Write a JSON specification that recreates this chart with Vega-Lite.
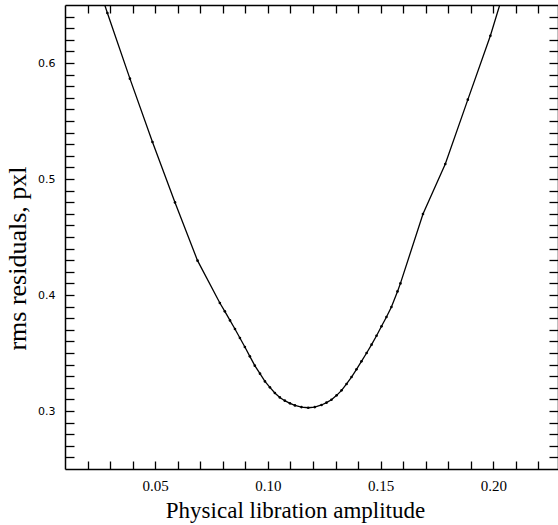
{
  "$schema": "https://vega.github.io/schema/vega-lite/v6.json",
  "width": 493,
  "height": 464,
  "autosize": {"type": "none"},
  "padding": {"left": 65, "top": 5, "right": 0, "bottom": 56},
  "background": "white",
  "config": {
    "view": {"stroke": null},
    "axis": {"grid": false, "domainColor": "black", "domainWidth": 1.5, "tickColor": "black", "tickWidth": 1.3, "labelColor": "black", "titleColor": "black"}
  },
  "data": {
    "values": [
      {"a": 0.0188, "r": 0.702},
      {"a": 0.0288, "r": 0.6431},
      {"a": 0.0388, "r": 0.5865},
      {"a": 0.0488, "r": 0.5319},
      {"a": 0.0588, "r": 0.4798},
      {"a": 0.0688, "r": 0.4296},
      {"a": 0.0787, "r": 0.3931},
      {"a": 0.0809, "r": 0.3859},
      {"a": 0.0832, "r": 0.3781},
      {"a": 0.0854, "r": 0.3707},
      {"a": 0.0876, "r": 0.3629},
      {"a": 0.0898, "r": 0.3552},
      {"a": 0.0920, "r": 0.3471},
      {"a": 0.0942, "r": 0.3391},
      {"a": 0.0965, "r": 0.3322},
      {"a": 0.0987, "r": 0.3255},
      {"a": 0.1009, "r": 0.3204},
      {"a": 0.1031, "r": 0.3155},
      {"a": 0.1053, "r": 0.3117},
      {"a": 0.1075, "r": 0.3089},
      {"a": 0.1098, "r": 0.3066},
      {"a": 0.1120, "r": 0.3048},
      {"a": 0.1149, "r": 0.3034},
      {"a": 0.1179, "r": 0.3028},
      {"a": 0.1208, "r": 0.3034},
      {"a": 0.1238, "r": 0.3052},
      {"a": 0.1260, "r": 0.3072},
      {"a": 0.1282, "r": 0.3097},
      {"a": 0.1305, "r": 0.3135},
      {"a": 0.1327, "r": 0.3178},
      {"a": 0.1349, "r": 0.3233},
      {"a": 0.1371, "r": 0.3293},
      {"a": 0.1393, "r": 0.3359},
      {"a": 0.1415, "r": 0.3428},
      {"a": 0.1438, "r": 0.3500},
      {"a": 0.1460, "r": 0.3572},
      {"a": 0.1482, "r": 0.3649},
      {"a": 0.1504, "r": 0.3730},
      {"a": 0.1526, "r": 0.3810},
      {"a": 0.1548, "r": 0.3897},
      {"a": 0.1575, "r": 0.4031},
      {"a": 0.1588, "r": 0.4100},
      {"a": 0.1688, "r": 0.4698},
      {"a": 0.1787, "r": 0.5129},
      {"a": 0.1887, "r": 0.5684},
      {"a": 0.1987, "r": 0.6235},
      {"a": 0.2088, "r": 0.688}
    ]
  },
  "layer": [
    {
      "mark": {"type": "line", "color": "black", "strokeWidth": 1.3, "clip": true,
               "point": {"filled": true, "size": 7, "color": "black"}},
      "encoding": {
        "x": {"field": "a", "type": "quantitative",
              "scale": {"domain": [0.01, 0.2287], "nice": false, "zero": false},
              "axis": {
                "orient": "bottom",
                "values": [0.02,0.03,0.04,0.05,0.06,0.07,0.08,0.09,0.10,0.11,0.12,0.13,0.14,0.15,0.16,0.17,0.18,0.19,0.20,0.21,0.22],
                "labelExpr": "round(datum.value*100) % 5 == 0 ? format(datum.value, '.2f') : ''",
                "tickSize": -8, "labelPadding": 17,
                "labelFont": "Liberation Serif", "labelFontSize": 15,
                "title": "Physical libration amplitude",
                "titleFont": "Liberation Serif", "titleFontSize": 23, "titleFontWeight": "normal",
                "titleX": 230, "titleY": 48, "titleBaseline": "alphabetic", "titleAnchor": "middle",
                "encode": {"ticks": {"update": {"y2": {"signal": "round(datum.value*100) % 5 == 0 ? -8 : -4"}}}}
              }},
        "y": {"field": "r", "type": "quantitative",
              "scale": {"domain": [0.25, 0.65], "nice": false, "zero": false},
              "axis": {
                "orient": "left",
                "values": [0.26,0.27,0.28,0.29,0.30,0.31,0.32,0.33,0.34,0.35,0.36,0.37,0.38,0.39,0.40,0.41,0.42,0.43,0.44,0.45,0.46,0.47,0.48,0.49,0.50,0.51,0.52,0.53,0.54,0.55,0.56,0.57,0.58,0.59,0.60,0.61,0.62,0.63,0.64],
                "labelExpr": "round(datum.value*100) % 10 == 0 ? format(datum.value, '.1f') : ''",
                "tickSize": -9, "labelPadding": 19,
                "labelFont": "DejaVu Sans", "labelFontSize": 11,
                "title": "rms residuals, pxl",
                "titleFont": "Liberation Serif", "titleFontSize": 26, "titleFontWeight": "normal",
                "titleX": -40, "titleY": 253, "titleAngle": -90, "titleBaseline": "alphabetic", "titleAlign": "center",
                "encode": {"ticks": {"update": {"x2": {"signal": "round(datum.value*100) % 10 == 0 ? 9 : 5"}}}}
              }}
      }
    },
    {
      "mark": {"type": "point", "opacity": 0},
      "encoding": {
        "x": {"field": "a", "type": "quantitative",
              "scale": {"domain": [0.01, 0.2287], "nice": false, "zero": false},
              "axis": {
                "orient": "top",
                "values": [0.02,0.03,0.04,0.05,0.06,0.07,0.08,0.09,0.10,0.11,0.12,0.13,0.14,0.15,0.16,0.17,0.18,0.19,0.20,0.21,0.22],
                "labels": false, "title": null, "tickSize": -8,
                "encode": {"ticks": {"update": {"y2": {"signal": "round(datum.value*100) % 5 == 0 ? 8 : 4"}}}}
              }},
        "y": {"field": "r", "type": "quantitative",
              "scale": {"domain": [0.25, 0.65], "nice": false, "zero": false},
              "axis": {
                "orient": "right",
                "values": [0.26,0.27,0.28,0.29,0.30,0.31,0.32,0.33,0.34,0.35,0.36,0.37,0.38,0.39,0.40,0.41,0.42,0.43,0.44,0.45,0.46,0.47,0.48,0.49,0.50,0.51,0.52,0.53,0.54,0.55,0.56,0.57,0.58,0.59,0.60,0.61,0.62,0.63,0.64],
                "labels": false, "title": null, "tickSize": -9,
                "encode": {"ticks": {"update": {"x2": {"signal": "round(datum.value*100) % 10 == 0 ? -9 : -5"}}}}
              }}
      }
    }
  ],
  "resolve": {"axis": {"x": "independent", "y": "independent"}}
}
